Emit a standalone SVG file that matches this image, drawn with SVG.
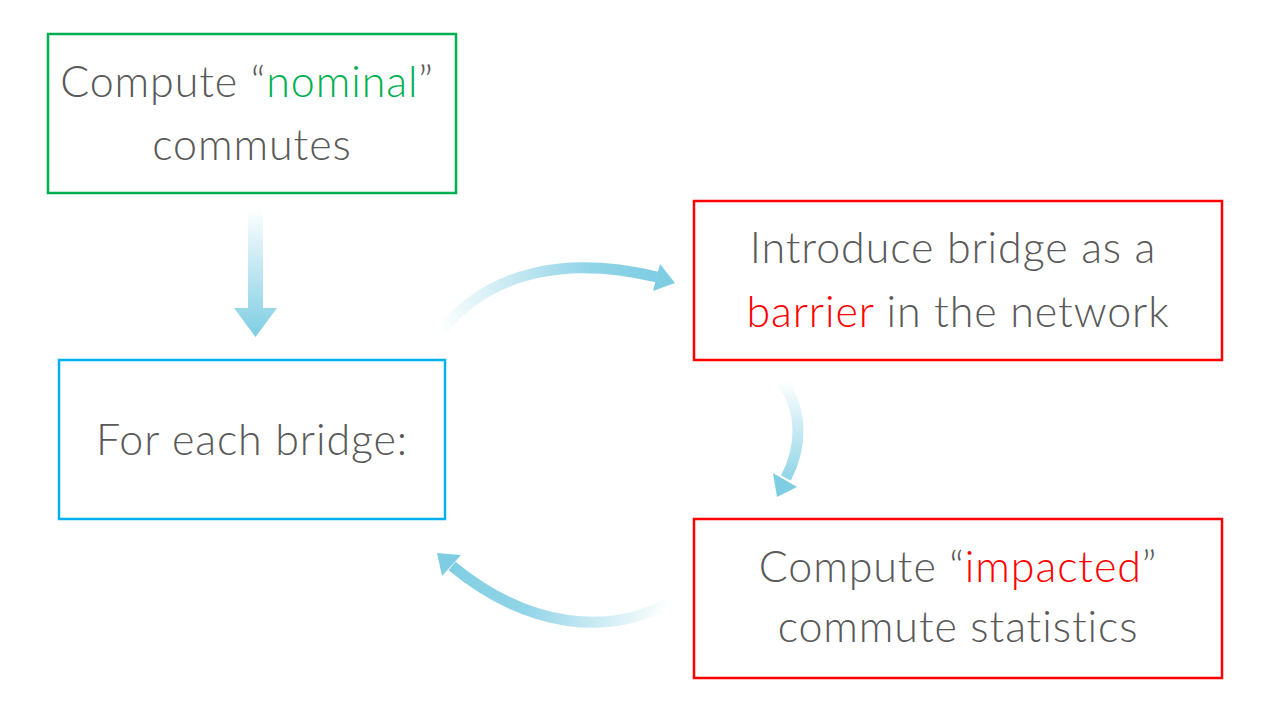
<svg xmlns="http://www.w3.org/2000/svg" width="1280" height="720" viewBox="0 0 1280 720">
<style>
.box{fill:#fff;stroke-width:2.5}
.t{font-family:Lato,"Open Sans","Liberation Sans",sans-serif;font-weight:300;font-size:43px;letter-spacing:0.9px;fill:#595959;text-anchor:middle}
.arr{fill:none;stroke-width:11}
</style>
<defs>
<linearGradient id="gDown" gradientUnits="userSpaceOnUse" x1="0" y1="208" x2="0" y2="337">
<stop offset="0" stop-color="#7ECDE3" stop-opacity="0"/>
<stop offset="1" stop-color="#7ECDE3"/>
</linearGradient>
<linearGradient id="gTop" gradientUnits="userSpaceOnUse" x1="440" y1="330" x2="660" y2="275">
<stop offset="0" stop-color="#7ECDE3" stop-opacity="0"/>
<stop offset="0.7" stop-color="#7ECDE3" stop-opacity="0.85"/>
<stop offset="1" stop-color="#7ECDE3"/>
</linearGradient>
<linearGradient id="gRight" gradientUnits="userSpaceOnUse" x1="0" y1="380" x2="0" y2="497">
<stop offset="0" stop-color="#7ECDE3" stop-opacity="0"/>
<stop offset="1" stop-color="#7ECDE3"/>
</linearGradient>
<linearGradient id="gBot" gradientUnits="userSpaceOnUse" x1="670" y1="600" x2="440" y2="555">
<stop offset="0" stop-color="#7ECDE3" stop-opacity="0"/>
<stop offset="0.6" stop-color="#7ECDE3" stop-opacity="0.85"/>
<stop offset="1" stop-color="#7ECDE3"/>
</linearGradient>
</defs>
<g id="connectors">
<path d="M248,208 H263 V308 H277 L255.5,337 L234,308 H248 Z" fill="url(#gDown)"/>
<path class="arr" stroke="url(#gTop)" d="M442,330 C490,272 565,255 657,277"/>
<polygon points="660,264 675,283 653,291" fill="#7ECDE3"/>
<path class="arr" stroke="url(#gRight)" d="M783,383 C803,412 802,447 786,478"/>
<polygon points="773,473 777,497 797,487" fill="#7ECDE3"/>
<path class="arr" stroke="url(#gBot)" d="M668,603 C610,635 530,630 452,566"/>
<polygon points="461,555 437,553 442,576" fill="#7ECDE3"/>
</g>
<g id="node-nominal">
<rect class="box" x="48" y="34" width="408" height="159" stroke="#00B050"/>
<text class="t" x="247" y="97">Compute “<tspan fill="#00B050">nominal</tspan>”</text>
<text class="t" x="252" y="160">commutes</text>
</g>
<g id="node-foreach">
<rect class="box" x="59" y="360" width="386" height="159" stroke="#00B0F0"/>
<text class="t" x="252" y="455">For each bridge:</text>
</g>
<g id="node-barrier">
<rect class="box" x="694" y="201" width="528" height="159" stroke="#FF0000"/>
<text class="t" x="953" y="263">Introduce bridge as a</text>
<text class="t" x="958" y="327"><tspan fill="#FF0000">barrier</tspan> in the network</text>
</g>
<g id="node-impacted">
<rect class="box" x="694" y="519" width="528" height="159" stroke="#FF0000"/>
<text class="t" x="958" y="582">Compute “<tspan fill="#FF0000">impacted</tspan>”</text>
<text class="t" x="958" y="642">commute statistics</text>
</g>
</svg>
